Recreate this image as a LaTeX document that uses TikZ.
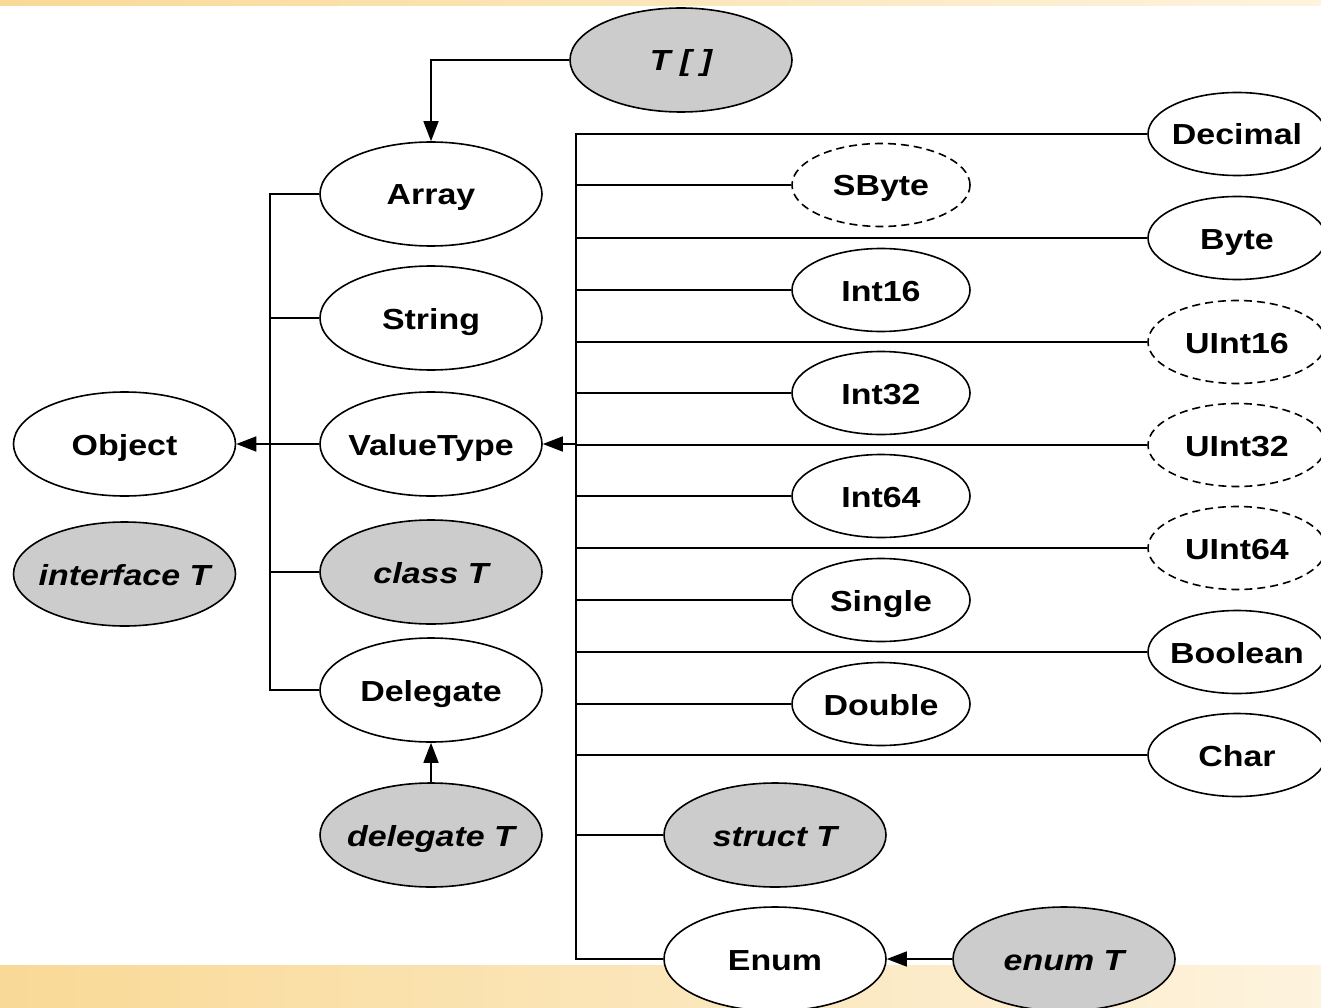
\documentclass[tikz,border=0pt]{standalone}
\usepackage{fontspec}
\setmainfont{Liberation Sans}
\usetikzlibrary{shapes.geometric,arrows.meta}
\definecolor{bandL}{RGB}{249,217,150}
\definecolor{bandR}{RGB}{253,243,222}
\newcommand{\tn}[1]{\makebox[0pt]{\raisebox{-11pt}[0pt][0pt]{\scalebox{1.17}[1]{#1}}}}
\tikzset{
  big/.style={ellipse,draw,line width=1.6pt,minimum width=222pt,minimum height=104pt,inner sep=0pt,fill=white,font=\fontsize{29}{31}\selectfont\bfseries},
  small/.style={big,minimum width=178pt,minimum height=83pt},
  tmpl/.style={fill=black!20,font=\fontsize{29}{31}\selectfont\bfseries\itshape},
  opt/.style={dash pattern=on 8pt off 5pt},
  link/.style={line width=1.6pt},
  arr/.style={link,-{Triangle[length=20pt,width=15pt]}}
}
\begin{document}
\begin{tikzpicture}[x=1pt,y=-1pt]
      \useasboundingbox (0,0) rectangle (1321,1008);
      % bands
      \shade[left color=bandL,right color=bandR] (0,0) rectangle (1321,6);
      \shade[left color=bandL,right color=bandR] (0,965) rectangle (1321,1008);
      % left column
      \node[big] (Object) at (124.5,444) {\tn{Object}};
      \node[big,tmpl] (interfaceT) at (124.5,574) {\tn{interface T}};
      % middle column
      \node[big,tmpl] (Tarr) at (681,60) {\tn{T [ ]}};
      \node[big] (Array) at (431,194) {\tn{Array}};
      \node[big] (String) at (431,318) {\tn{String}};
      \node[big] (ValueType) at (431,444) {\tn{ValueType}};
      \node[big,tmpl] (classT) at (431,572) {\tn{class T}};
      \node[big] (Delegate) at (431,690) {\tn{Delegate}};
      \node[big,tmpl] (delegateT) at (431,835) {\tn{delegate T}};
      % value types
      \node[small] (Decimal) at (1237,134) {\tn{Decimal}};
      \node[small,opt] (SByte) at (881,185) {\tn{SByte}};
      \node[small] (Byte) at (1237,238) {\tn{Byte}};
      \node[small] (Int16) at (881,290) {\tn{Int16}};
      \node[small,opt] (UInt16) at (1237,342) {\tn{UInt16}};
      \node[small] (Int32) at (881,393) {\tn{Int32}};
      \node[small,opt] (UInt32) at (1237,445) {\tn{UInt32}};
      \node[small] (Int64) at (881,496) {\tn{Int64}};
      \node[small,opt] (UInt64) at (1237,548) {\tn{UInt64}};
      \node[small] (Single) at (881,600) {\tn{Single}};
      \node[small] (Boolean) at (1237,652) {\tn{Boolean}};
      \node[small] (Double) at (881,704) {\tn{Double}};
      \node[small] (Char) at (1237,755) {\tn{Char}};
      \node[big,tmpl] (structT) at (775,835) {\tn{struct T}};
      \node[big] (Enum) at (775,959) {\tn{Enum}};
      \node[big,tmpl] (enumT) at (1064,959) {\tn{enum T}};
      % buses
      \coordinate (lbus) at (270,444);
      \coordinate (rbus) at (576,444);
      \foreach \n in {Array,String,classT,Delegate}
        \draw[link] (\n.west) -| (lbus);
      \foreach \n in {Decimal,SByte,Byte,Int16,UInt16,Int32,UInt32,Int64,UInt64,Single,Boolean,Double,Char,structT,Enum}
        \draw[link] (\n.west) -| (rbus);
      \draw[arr] (ValueType.west) -- (Object.east);
      \draw[arr] (rbus) -- (ValueType.east);
      \draw[arr] (Tarr.west) -| (Array.north);
      \draw[arr] (delegateT.north) -- (Delegate.south);
      \draw[arr] (enumT.west) -- (Enum.east);
    \end{tikzpicture}
\end{document}
